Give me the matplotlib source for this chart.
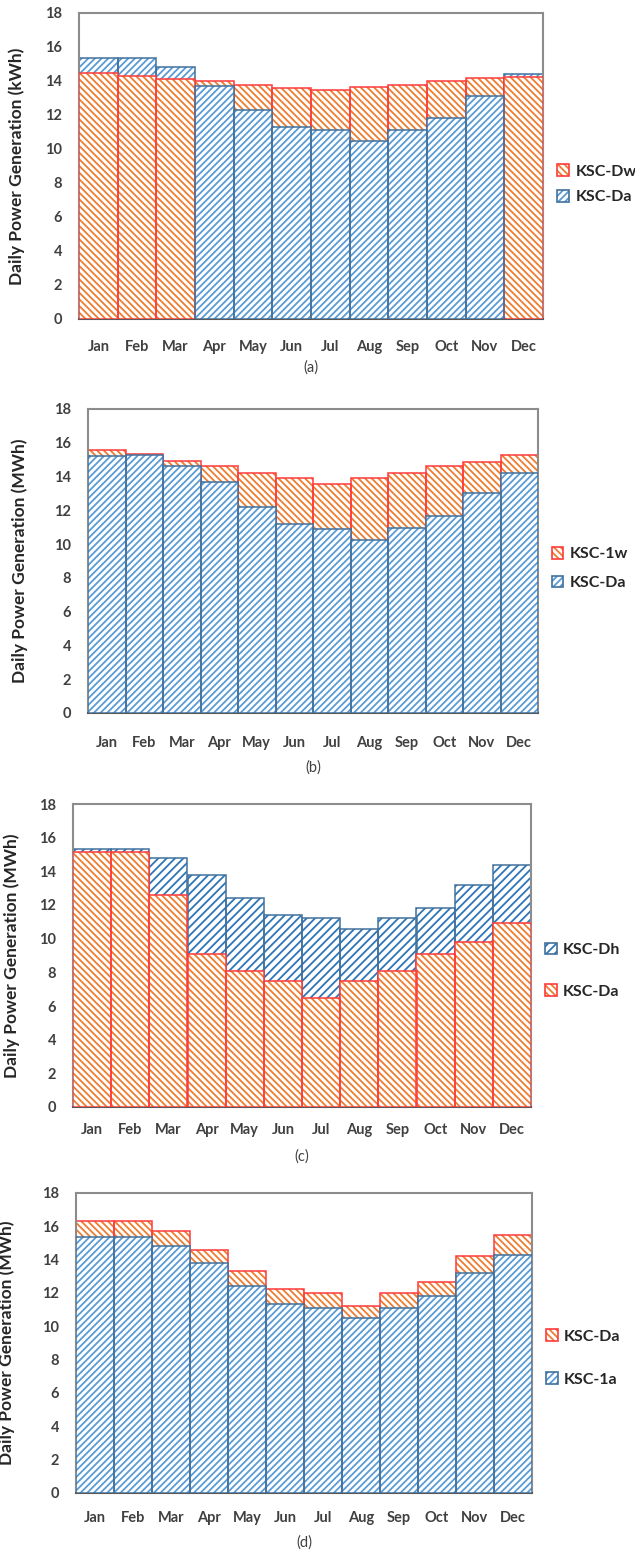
import matplotlib
matplotlib.use("Agg")
import numpy as np
import matplotlib.pyplot as plt
from matplotlib.patches import Patch

plt.rcParams['font.family'] = ['Lato', 'DejaVu Sans']
plt.rcParams['hatch.linewidth'] = 1.3

months = ['Jan', 'Feb', 'Mar', 'Apr', 'May', 'Jun', 'Jul', 'Aug', 'Sep', 'Oct', 'Nov', 'Dec']
y_ticks = [0, 2, 4, 6, 8, 10, 12, 14, 16, 18]

# panel (a)
a_dw = [14.5, 14.3, 14.1, 14.0, 13.75, 13.6, 13.45, 13.65, 13.75, 14.0, 14.2, 14.25]
a_da = [15.35, 15.35, 14.8, 13.72, 12.3, 11.3, 11.1, 10.5, 11.1, 11.8, 13.1, 14.4]
# panel (b)
b_1w = [15.6, 15.32, 14.9, 14.65, 14.2, 13.9, 13.55, 13.9, 14.2, 14.6, 14.85, 15.3]
b_da = [15.2, 15.25, 14.65, 13.65, 12.2, 11.2, 10.9, 10.25, 10.95, 11.65, 13.0, 14.2]
# panel (c)
c_dh = [15.35, 15.35, 14.8, 13.8, 12.4, 11.4, 11.2, 10.6, 11.2, 11.85, 13.2, 14.35]
c_da = [15.15, 15.15, 12.6, 9.1, 8.1, 7.5, 6.5, 7.5, 8.1, 9.1, 9.8, 10.95]
# panel (d)
d_da = [16.3, 16.3, 15.75, 14.6, 13.35, 12.25, 12.0, 11.25, 12.0, 12.65, 14.2, 15.5]
d_1a = [15.35, 15.35, 14.8, 13.8, 12.4, 11.35, 11.1, 10.5, 11.1, 11.85, 13.2, 14.3]

ORANGE = dict(hatch='\\' * 5, hatch_color='#ED7D31', edge='#FF3B3B')
BLUE = dict(hatch='/' * 5, hatch_color='#5B9BD5', edge='#41719C')
BLUE_DARK = dict(hatch='/' * 4, hatch_color='#2E75B6', edge='#41719C')

W, H = 635, 1553


def add_panel(fig, left, right, top, bottom):
    return fig.add_axes([left / W, 1 - bottom / H, (right - left) / W, (bottom - top) / H])


def overlap_bars(ax, vals, other, style):
    # the shorter bar of each month sits in front of the taller one
    x = np.arange(len(vals))
    faces = ax.bar(x, vals, width=1.0, color='white', edgecolor=style['hatch_color'],
                   hatch=style['hatch'], linewidth=0)
    edges = ax.bar(x, vals, width=1.0, fill=False, edgecolor=style['edge'], linewidth=1.1)
    for i in range(len(vals)):
        z = 3 if vals[i] < other[i] else 2
        faces[i].set_zorder(z)
        edges[i].set_zorder(z + 0.5)


def handle(style):
    face = Patch(facecolor='white', edgecolor=style['hatch_color'], hatch=style['hatch'], linewidth=0)
    edge = Patch(fill=False, edgecolor=style['edge'], linewidth=1.2)
    return (face, edge)


def style_axes(ax, unit, tag, label_x, tick_pad, tag_offset, legend_y, legend_space, entries):
    ax.set_xlim(-0.5, 11.5)
    ax.set_ylim(0, 18)
    ax.set_yticks(y_ticks)
    ax.set_xticks(np.arange(12))
    ax.set_xticklabels(months)
    ax.tick_params(axis='both', length=0, labelsize=10.5, labelcolor='#404040')
    ax.tick_params(axis='y', pad=12)
    ax.tick_params(axis='x', pad=tick_pad)
    for lab in ax.get_xticklabels() + ax.get_yticklabels():
        lab.set_fontweight('bold')
    for side in ['top', 'right', 'left']:
        ax.spines[side].set_color('#8c8c8c')
        ax.spines[side].set_linewidth(1.5)
    ax.spines['bottom'].set_color('#595959')
    ax.spines['bottom'].set_linewidth(1.5)
    ax.set_ylabel('Daily Power Generation (' + unit + ')', fontsize=12.5, fontweight='bold', color='#262626')
    ax.yaxis.set_label_coords(label_x, 0.5)
    ax.annotate(tag, xy=(0.5, 0), xycoords='axes fraction', xytext=(0, tag_offset),
                textcoords='offset points', ha='center', va='center', fontsize=10.5, color='#404040')
    handles = [handle(s) for s, _ in entries]
    labels = [l for _, l in entries]
    ax.legend(handles, labels, loc='center left', bbox_to_anchor=(1.03, legend_y), frameon=False,
              handlelength=0.75, handleheight=0.75, handletextpad=0.4, borderpad=0, borderaxespad=0,
              labelspacing=legend_space, prop={'size': 11.5, 'weight': 'bold'}, labelcolor='#262626')


def main():
    fig = plt.figure(figsize=(W / 100, H / 100), dpi=100)

    ax = add_panel(fig, 79, 543, 13, 319)
    overlap_bars(ax, a_dw, a_da, ORANGE)
    overlap_bars(ax, a_da, a_dw, BLUE)
    style_axes(ax, 'kWh', '(a)', -0.117, 15, -35, 0.44, 0.7,
               [(ORANGE, 'KSC-Dw'), (BLUE, 'KSC-Da')])

    ax = add_panel(fig, 88, 538, 409, 713)
    overlap_bars(ax, b_1w, b_da, ORANGE)
    overlap_bars(ax, b_da, b_1w, BLUE)
    style_axes(ax, 'MWh', '(b)', -0.133, 16.5, -39, 0.475, 0.9,
               [(ORANGE, 'KSC-1w'), (BLUE, 'KSC-Da')])

    ax = add_panel(fig, 73, 531, 804, 1107)
    overlap_bars(ax, c_dh, c_da, BLUE_DARK)
    overlap_bars(ax, c_da, c_dh, ORANGE)
    style_axes(ax, 'MWh', '(c)', -0.115, 11.5, -36, 0.45, 1.7,
               [(BLUE_DARK, 'KSC-Dh'), (ORANGE, 'KSC-Da')])

    ax = add_panel(fig, 76, 532, 1193, 1493)
    overlap_bars(ax, d_da, d_1a, ORANGE)
    overlap_bars(ax, d_1a, d_da, BLUE)
    style_axes(ax, 'MWh', '(d)', -0.134, 13, -36, 0.45, 1.8,
               [(ORANGE, 'KSC-Da'), (BLUE, 'KSC-1a')])

    fig.savefig('out.png', dpi=100)


if __name__ == "__main__":
    main()
